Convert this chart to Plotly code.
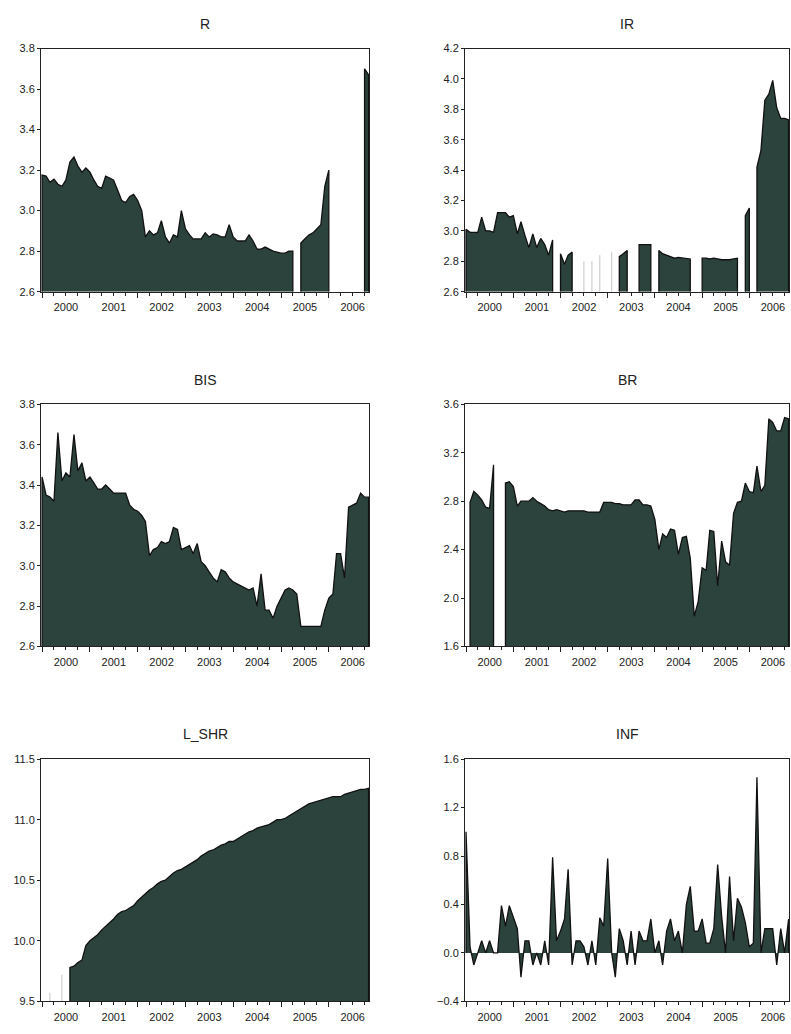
import plotly.graph_objects as go
import pandas as pd

# ---------------- data (monthly, 2000-01 .. 2006-11) ----------------
months = [d.strftime("%Y-%m-%d") for d in pd.date_range("2000-01-01", periods=83, freq="MS")]

R = [3.175, 3.17, 3.14, 3.155, 3.13, 3.12, 3.15, 3.24, 3.265, 3.22,
     3.19, 3.21, 3.19, 3.15, 3.12, 3.11, 3.17, 3.16, 3.15, 3.10,
     3.05, 3.04, 3.07, 3.08, 3.05, 3.00, 2.87, 2.90, 2.88, 2.89,
     2.95, 2.87, 2.84, 2.88, 2.87, 3.00, 2.91, 2.88, 2.86, 2.86,
     2.86, 2.89, 2.87, 2.885, 2.88, 2.87, 2.87, 2.93, 2.87, 2.85,
     2.85, 2.85, 2.88, 2.85, 2.81, 2.81, 2.82, 2.81, 2.80, 2.795,
     2.79, 2.79, 2.80, 2.80, None, 2.84, 2.86, 2.88, 2.89, 2.91,
     2.93, 3.12, 3.20, None, None, None, None, None, None, None,
     None, 3.70, 3.67]

IR = [3.01, 2.99, 2.99, 2.99, 3.09, 3.00, 3.00, 2.99, 3.12, 3.12,
      3.12, 3.09, 3.10, 2.98, 3.06, 2.97, 2.89, 2.98, 2.89, 2.95,
      2.91, 2.84, 2.94, None, 2.85, 2.78, 2.84, 2.86, None, None,
      2.80, None, 2.80, None, 2.84, None, None, 2.86, None, 2.83,
      2.85, 2.87, None, None, 2.91, 2.91, 2.91, 2.91, None, 2.87,
      2.85, 2.84, 2.83, 2.82, 2.825, 2.82, 2.82, 2.815, None, None,
      2.82, 2.82, 2.815, 2.82, 2.815, 2.81, 2.81, 2.81, 2.815, 2.82,
      None, 3.10, 3.15, None, 3.42, 3.53, 3.86, 3.90, 3.99, 3.81,
      3.74, 3.74, 3.73]

BIS = [3.44, 3.35, 3.34, 3.32, 3.66, 3.42, 3.46, 3.44, 3.65, 3.47,
       3.51, 3.42, 3.44, 3.41, 3.38, 3.38, 3.40, 3.38, 3.36, 3.36,
       3.36, 3.36, 3.30, 3.28, 3.27, 3.25, 3.22, 3.05, 3.08, 3.09,
       3.12, 3.11, 3.12, 3.19, 3.18, 3.08, 3.09, 3.10, 3.06, 3.11,
       3.02, 3.00, 2.97, 2.94, 2.92, 2.98, 2.97, 2.94, 2.92, 2.91,
       2.90, 2.89, 2.88, 2.89, 2.80, 2.96, 2.78, 2.78, 2.74, 2.80,
       2.84, 2.88, 2.89, 2.88, 2.86, 2.70, 2.70, 2.70, 2.70, 2.70,
       2.70, 2.78, 2.84, 2.86, 3.06, 3.06, 2.94, 3.29, 3.30, 3.31,
       3.36, 3.34, 3.34]

BR = [None, 2.79, 2.88, 2.85, 2.81, 2.75, 2.74, 3.10, None, None,
      2.95, 2.96, 2.92, 2.76, 2.80, 2.80, 2.80, 2.83, 2.80, 2.78,
      2.76, 2.73, 2.72, 2.73, 2.72, 2.71, 2.72, 2.72, 2.72, 2.72,
      2.72, 2.71, 2.71, 2.71, 2.71, 2.79, 2.79, 2.79, 2.78, 2.78,
      2.77, 2.77, 2.77, 2.81, 2.81, 2.77, 2.77, 2.76, 2.65, 2.40,
      2.53, 2.50, 2.57, 2.56, 2.36, 2.50, 2.51, 2.33, 1.85, 1.97,
      2.25, 2.23, 2.56, 2.55, 2.10, 2.47, 2.30, 2.27, 2.70, 2.79,
      2.80, 2.95, 2.88, 2.87, 3.09, 2.88, 2.93, 3.48, 3.45, 3.38,
      3.38, 3.49, 3.48]

L_SHR = [None, None, 9.57, None, None, 9.72, None, 9.78, 9.79, 9.82,
         9.84, 9.96, 10.00, 10.03, 10.05, 10.09, 10.12, 10.15, 10.18, 10.22,
         10.24, 10.25, 10.27, 10.29, 10.33, 10.36, 10.39, 10.42, 10.44, 10.47,
         10.49, 10.50, 10.53, 10.56, 10.58, 10.59, 10.61, 10.63, 10.65, 10.67,
         10.70, 10.72, 10.74, 10.75, 10.77, 10.79, 10.80, 10.82, 10.82, 10.84,
         10.86, 10.88, 10.90, 10.91, 10.93, 10.94, 10.95, 10.96, 10.98, 11.00,
         11.00, 11.01, 11.03, 11.05, 11.07, 11.09, 11.11, 11.13, 11.14, 11.15,
         11.16, 11.17, 11.18, 11.19, 11.19, 11.19, 11.21, 11.22, 11.23, 11.24,
         11.25, 11.25, 11.26]

INF = [1.00, 0.05, -0.10, 0.00, 0.10, 0.00, 0.10, 0.00, 0.00, 0.39,
       0.22, 0.39, 0.30, 0.20, -0.20, 0.10, 0.10, -0.10, 0.00, -0.10,
       0.10, -0.10, 0.79, 0.10, 0.18, 0.28, 0.69, -0.10, 0.10, 0.10,
       0.05, -0.10, 0.10, -0.10, 0.29, 0.22, 0.78, 0.00, -0.20, 0.20,
       0.10, -0.10, 0.18, -0.10, 0.18, 0.10, 0.10, 0.28, 0.00, 0.10,
       -0.10, 0.18, 0.28, 0.10, 0.18, 0.00, 0.40, 0.55, 0.18, 0.18,
       0.28, 0.08, 0.08, 0.20, 0.73, 0.30, 0.00, 0.63, 0.10, 0.45,
       0.38, 0.25, 0.05, 0.08, 1.45, 0.00, 0.20, 0.20, 0.20, -0.10,
       0.20, 0.00, 0.28]

titles = ["R", "IR", "BIS", "BR", "L_SHR", "INF"]
series = [R, IR, BIS, BR, L_SHR, INF]
y_ranges = [[2.6, 3.8], [2.6, 4.2], [2.6, 3.8], [1.6, 3.6], [9.5, 11.5], [-0.4, 1.6]]
y_dticks = [0.2, 0.2, 0.2, 0.4, 0.5, 0.4]
fill_base = [2.6, 2.6, 2.6, 1.6, 9.5, 0.0]

# ---------------- layout geometry ----------------
W, H = 791, 1034
col_px = [(41, 369), (465, 789)]
row_px = [(43, 289), (403, 648), (762, 1007)]

FILL = "#2b433c"
LINE = "#111111"
FONT = "Liberation Sans, Arial, sans-serif"


def outline(dates, vals, base):
    """Closed outlines for runs of consecutive values; isolated points separately."""
    xs, ys, ix, iy = [], [], [], []
    n = len(vals)
    i = 0
    while i < n:
        if vals[i] is None:
            i += 1
            continue
        j = i
        while j + 1 < n and vals[j + 1] is not None:
            j += 1
        if j > i:
            xs += [dates[i]] + dates[i:j + 1] + [dates[j], None]
            ys += [base] + vals[i:j + 1] + [base, None]
        else:
            ix += [dates[i], dates[i], None]
            iy += [base, vals[i], None]
        i = j + 1
    return xs, ys, ix, iy


fig = go.Figure()
annotations = []
layout = {}

for k in range(6):
    r, c = divmod(k, 2)
    x0, x1 = col_px[c]
    top, bot = row_px[r]
    dom_x = [x0 / W, x1 / W]
    dom_y = [1 - bot / H, 1 - top / H]
    sfx = "" if k == 0 else str(k + 1)
    xa, ya = "x" + sfx, "y" + sfx

    xs, ys, ix, iy = outline(months, series[k], fill_base[k])
    fig.add_trace(go.Scatter(x=xs, y=ys, xaxis=xa, yaxis=ya, mode="lines",
                             fill="toself", fillcolor=FILL,
                             line=dict(color=LINE, width=1.3),
                             connectgaps=False, showlegend=False, hoverinfo="skip"))
    if ix:
        fig.add_trace(go.Scatter(x=ix, y=iy, xaxis=xa, yaxis=ya, mode="lines",
                                 line=dict(color="#c4c4c4", width=1),
                                 connectgaps=False, showlegend=False, hoverinfo="skip"))

    layout["xaxis" + sfx] = dict(
        domain=dom_x, anchor=ya, type="date",
        range=["1999-12-24", "2006-11-04"],
        tick0="2000-01-01", dtick="M12", ticklabelmode="period", tickformat="%Y",
        ticks="outside", ticklen=5, tickwidth=1, tickcolor="#222",
        minor=dict(dtick="M3", ticks="outside", ticklen=3, tickcolor="#222", showgrid=False),
        showline=True, linecolor="#222", linewidth=1, mirror=True,
        showgrid=False, zeroline=False,
        tickfont=dict(family=FONT, size=11, color="#222"),
    )
    layout["yaxis" + sfx] = dict(
        domain=dom_y, anchor=xa, range=y_ranges[k],
        tick0=y_ranges[k][0], dtick=y_dticks[k], tickformat=".1f",
        ticks="outside", ticklen=3, tickwidth=1, tickcolor="#222",
        showline=True, linecolor="#222", linewidth=1, mirror=True,
        showgrid=False, zeroline=False,
        tickfont=dict(family=FONT, size=11, color="#222"),
    )
    annotations.append(dict(
        text=titles[k], xref="paper", yref="paper",
        x=(dom_x[0] + dom_x[1]) / 2, y=1 - (top - 25) / H,
        xanchor="center", yanchor="middle", showarrow=False,
        font=dict(family=FONT, size=14, color="#222"),
    ))

fig.update_layout(
    width=W, height=H,
    margin=dict(l=0, r=0, t=0, b=0),
    paper_bgcolor="white", plot_bgcolor="white",
    annotations=annotations,
    **layout,
)

fig.write_html("out.html",
               config={"displayModeBar": False},
               post_script="document.body.style.margin='0px';document.body.style.overflow='hidden';")
